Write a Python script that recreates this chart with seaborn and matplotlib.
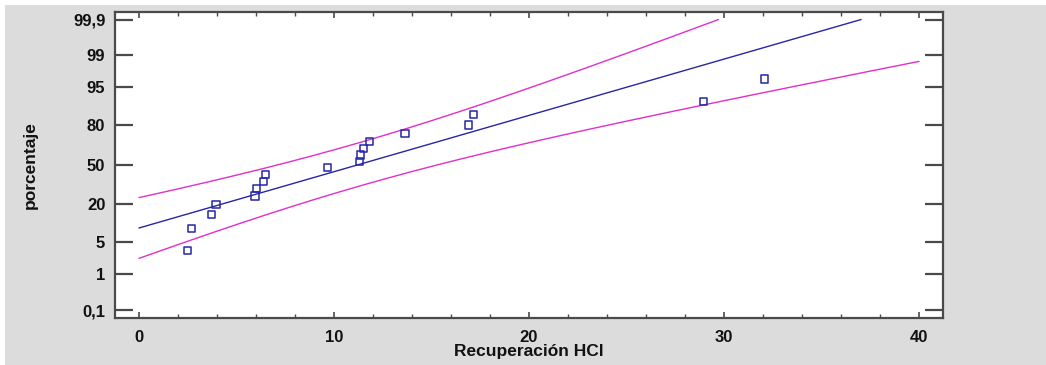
import numpy as np
import pandas as pd
import matplotlib
matplotlib.use("Agg")
import matplotlib.pyplot as plt
from matplotlib.patches import Rectangle
from statistics import NormalDist
import seaborn as sns

# Observed HCl recovery values and their cumulative plotting positions (%)
recuperacion = [2.50, 2.68, 3.74, 3.95, 5.95, 6.01, 6.39, 6.51, 9.68,
                11.32, 11.37, 11.49, 11.81, 13.64, 16.92, 17.16, 28.96, 32.09]
porcentaje = [3.4, 8.9, 14.4, 19.9, 25.3, 30.8, 36.3, 41.8, 47.3,
              52.7, 58.2, 63.7, 69.2, 74.7, 80.1, 85.6, 91.1, 96.6]

# Probability-axis ticks
y_ticks = [0.1, 1, 5, 20, 50, 80, 95, 99, 99.9]
y_tick_labels = ["0,1", "1", "5", "20", "50", "80", "95", "99", "99,9"]
x_ticks = [0, 10, 20, 30, 40]

ND = NormalDist()
_ppf = np.vectorize(lambda p: ND.inv_cdf(min(max(p, 1e-9), 1 - 1e-9)),
                    otypes=[float])
_cdf = np.vectorize(ND.cdf, otypes=[float])


def to_z(pct):
    return _ppf(np.asarray(pct, dtype=float) / 100.0)


def from_z(z):
    return _cdf(np.asarray(z, dtype=float)) * 100.0


# Fitted normal distribution and 95% bands
x = np.asarray(recuperacion)
n = len(x)
mu = x.mean()
sd = x.std(ddof=1)
grid = np.linspace(0, 40, 801)
z_fit = (grid - mu) / sd
half = 1.96 * np.sqrt(1.0 / n + z_fit ** 2 / (2.0 * (n - 1)))
z_max = ND.inv_cdf(0.999)


def clipped(zvals):
    keep = zvals <= z_max
    gx, gz = grid[keep], zvals[keep]
    if not keep.all():
        # extend to the exact point where the curve reaches 99.9 %
        i = np.argmax(~keep)
        x0, x1 = grid[i - 1], grid[i]
        z0, z1 = zvals[i - 1], zvals[i]
        xe = x0 + (z_max - z0) * (x1 - x0) / (z1 - z0)
        gx = np.append(gx, xe)
        gz = np.append(gz, z_max)
    return pd.DataFrame({"x": gx, "y": from_z(gz)})


fit_df = clipped(z_fit)
up_df = clipped(z_fit + half)
lo_df = clipped(z_fit - half)
pts = pd.DataFrame({"x": recuperacion, "y": porcentaje})

sns.set_style("ticks")
plt.rcParams["font.family"] = ["Liberation Sans", "DejaVu Sans"]
plt.rcParams["font.weight"] = "bold"

W, H = 1046, 365
fig = plt.figure(figsize=(W / 100, H / 100), dpi=100, facecolor="white")
fig.patches.append(Rectangle((5 / W, 0), 1 - 5 / W, 1 - 5 / H,
                             transform=fig.transFigure, facecolor="#dcdcdc",
                             edgecolor="none", zorder=-10))
ax = fig.add_axes([115 / W, 1 - 318 / H, (943 - 115) / W, (318 - 12) / H])
ax.set_facecolor("white")
ax.set_yscale("function", functions=(to_z, from_z))

blue = "#2626a6"
magenta = "#e030c8"
sns.lineplot(data=up_df, x="x", y="y", ax=ax, color=magenta, lw=1.0,
             sort=False, estimator=None)
sns.lineplot(data=lo_df, x="x", y="y", ax=ax, color=magenta, lw=1.0,
             sort=False, estimator=None)
sns.lineplot(data=fit_df, x="x", y="y", ax=ax, color=blue, lw=1.0,
             sort=False, estimator=None)
sns.scatterplot(data=pts, x="x", y="y", ax=ax, marker="s", s=26,
                facecolor="none", edgecolor=blue, linewidth=1.1, zorder=5)

ax.set_xlim(-1.23, 41.23)
ax.set_ylim(from_z(-3.26), from_z(3.25))
ax.set_yticks(y_ticks)
ax.set_yticklabels(y_tick_labels)
ax.set_xticks(x_ticks)
ax.set_xticks(np.arange(0, 41, 2), minor=True)
ax.yaxis.set_minor_locator(matplotlib.ticker.NullLocator())

spine_c = "#4a4a4a"
for s in ax.spines.values():
    s.set_color(spine_c)
    s.set_linewidth(1.6)

ax.tick_params(axis="y", which="major", direction="in", length=13, width=1.6,
               color=spine_c, left=True, right=True, labelsize=12,
               labelcolor="#111111", pad=7)
ax.tick_params(axis="x", which="major", direction="in", length=4.5, width=1.2,
               color=spine_c, bottom=True, top=True, labelsize=12,
               labelcolor="#111111", pad=8.5)
ax.tick_params(axis="x", which="minor", direction="in", length=3, width=1.0,
               color=spine_c, bottom=True, top=True)
for lab in ax.get_xticklabels() + ax.get_yticklabels():
    lab.set_fontweight("bold")

ax.set_xlabel("Recuperación HCl", fontsize=12.5, fontweight="bold",
              color="#111111")
ax.set_ylabel("porcentaje", fontsize=12.5, fontweight="bold", color="#111111")
ax.yaxis.set_label_coords(-0.093, 0.5)
ax.xaxis.set_label_coords(0.5, -0.085)
ax.xaxis.label.set_va("top")

fig.savefig("out.png", dpi=100, facecolor=fig.get_facecolor())
